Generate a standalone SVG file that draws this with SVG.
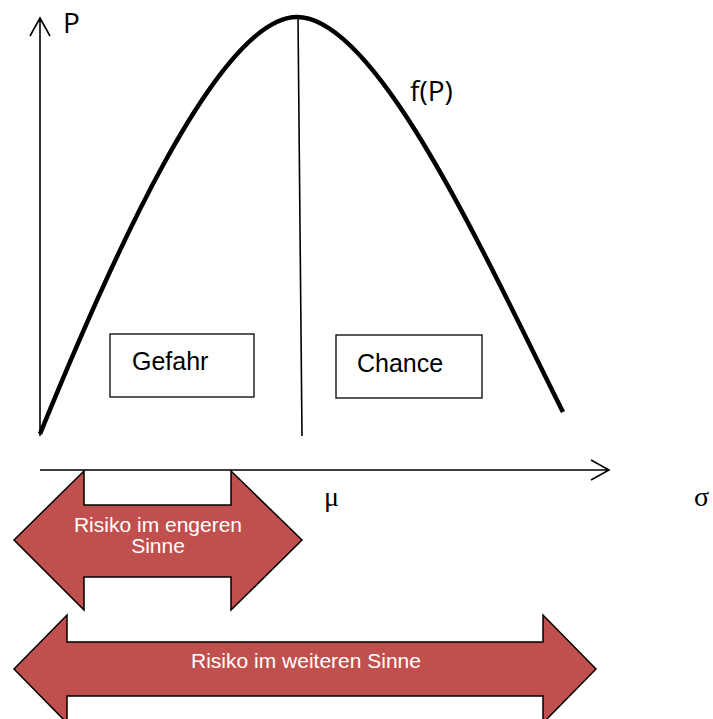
<svg xmlns="http://www.w3.org/2000/svg" width="713" height="719" viewBox="0 0 713 719">
<style>
.ax{fill:none;stroke:#000;stroke-width:1.6}
.box{fill:#fff;stroke:#000;stroke-width:1.3}
.arr{fill:#C0504D;stroke:#000;stroke-width:1.5;stroke-linejoin:miter}
.lbl{font-family:"Liberation Sans",Arial,sans-serif;fill:#000;font-size:25px}
.wt{font-family:"Liberation Sans",Arial,sans-serif;fill:#fff;font-size:21px;text-anchor:middle}
.os{font-family:"Open Sans","DejaVu Sans",sans-serif;fill:#000;font-size:28px}
.gr{font-family:"Liberation Serif","Times New Roman",serif;fill:#000;font-size:28px}
</style>
<g id="connectors">
<path class="ax" d="M40,436 V18 M30,36 L40,18 L50,36"/>
<path class="ax" d="M40,470 H609 M591,460 L609,470 L591,480"/>
<path id="curve" d="M40,434 C106,272 217,17 297,17 C377,17 485,256 563,412" fill="none" stroke="#000" stroke-width="4.5"/>
<path d="M298,17 L302,436" fill="none" stroke="#000" stroke-width="1.6"/>
</g>
<g id="label-P"><text class="os" x="63" y="33">P</text></g>
<g id="label-fP"><text class="os" x="410" y="101">f(P)</text></g>
<g id="label-mu"><text class="gr" x="324" y="506">μ</text></g>
<g id="label-sigma"><text class="gr" x="694" y="506">σ</text></g>
<g id="gefahr">
<rect class="box" x="110" y="334" width="144" height="63"/>
<text class="lbl" x="132" y="370">Gefahr</text>
</g>
<g id="chance">
<rect class="box" x="336" y="335" width="146" height="63"/>
<text class="lbl" x="357" y="372">Chance</text>
</g>
<g id="risiko-eng">
<polygon class="arr" points="14,540 84,471 84,505 231,505 231,471 302,540 231,610 231,577 84,577 84,610"/>
<text class="wt" x="158" y="532">Risiko im engeren</text>
<text class="wt" x="158" y="553">Sinne</text>
</g>
<g id="risiko-weit">
<polygon class="arr" points="14,669 67,615 67,642 543,642 543,615 596,669 543,723 543,696 67,696 67,723"/>
<text class="wt" x="306" y="668">Risiko im weiteren Sinne</text>
</g>
</svg>
